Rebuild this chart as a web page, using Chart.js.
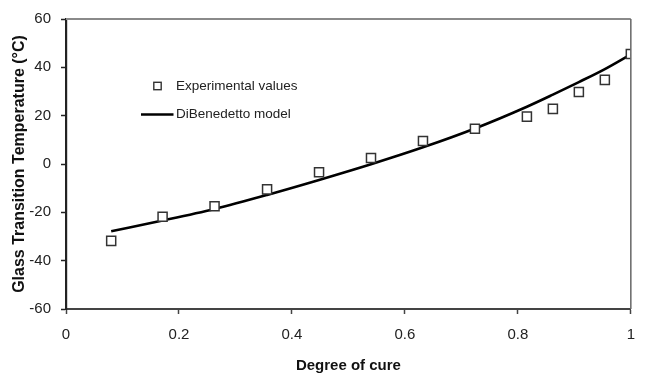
<!DOCTYPE html>
<html>
<head>
<meta charset="utf-8">
<title>Glass transition temperature vs degree of cure</title>
<script src="https://cdn.jsdelivr.net/npm/chart.js@4.4.1/dist/chart.umd.min.js"></script>
<style>
  html, body { margin: 0; padding: 0; background: #fff; }
  #wrap { width: 647px; height: 375px; }
</style>
</head>
<body>
<div id="wrap"><canvas id="tgChart" width="647" height="375"></canvas></div>
<script>
// degree of cure (x) and measured Tg in degC
var cureExp = [0.08, 0.171, 0.263, 0.356, 0.448, 0.54, 0.632, 0.724, 0.816, 0.862, 0.908, 0.954, 1.0];
var tgExp = [-31.8, -21.8, -17.5, -10.5, -3.4, 2.5, 9.5, 14.6, 19.6, 22.8, 29.8, 34.8, 45.5];

// DiBenedetto fit
var cureModel = [0.08, 0.171, 0.263, 0.356, 0.448, 0.54, 0.632, 0.724, 0.816, 0.862, 0.908, 0.954, 1.0];
var tgModel = [-27.8, -23.4, -18.6, -12.8, -6.6, -0.1, 6.9, 14.7, 23.7, 28.7, 33.9, 39.3, 45.4];

var xTicks = ["0", "0.2", "0.4", "0.6", "0.8", "1"];
var yTicks = ["-60", "-40", "-20", "0", "20", "40", "60"];

var seriesNames = ["Experimental values", "DiBenedetto model"];

function toPoints(xs, ys) {
  return xs.map(function (x, i) { return { x: x, y: ys[i] }; });
}

Chart.defaults.font.family = "'Liberation Sans', Arial, sans-serif";
Chart.defaults.color = "#222";

// frame on top and right of the plot
var frameLines = {
  id: 'frameLines',
  afterDraw: function (chart) {
    var a = chart.chartArea, ctx = chart.ctx;
    ctx.save();
    ctx.strokeStyle = '#8a8a8a';
    ctx.lineWidth = 2;
    ctx.beginPath();
    ctx.moveTo(a.left, a.top);
    ctx.lineTo(a.right, a.top);
    ctx.stroke();
    ctx.strokeStyle = '#666';
    ctx.lineWidth = 1.5;
    ctx.beginPath();
    ctx.moveTo(a.right, a.top);
    ctx.lineTo(a.right, a.bottom);
    ctx.stroke();
    ctx.restore();
  }
};

// small legend inside the plot, upper left
var innerLegend = {
  id: 'innerLegend',
  afterDraw: function (chart) {
    var a = chart.chartArea, ctx = chart.ctx;
    var ds = chart.data.datasets;
    var textX = a.left + 110;
    ctx.save();
    ctx.font = "13.5px 'Liberation Sans', Arial, sans-serif";
    ctx.textBaseline = 'middle';

    // marker row
    var y1 = a.top + 67;
    var mx = a.left + 91.5, s = 3.7;
    ctx.fillStyle = '#fff';
    ctx.strokeStyle = ds[0].borderColor;
    ctx.lineWidth = 1.4;
    ctx.fillRect(mx - s, y1 - s, 2 * s, 2 * s);
    ctx.strokeRect(mx - s, y1 - s, 2 * s, 2 * s);
    ctx.fillStyle = '#222';
    ctx.fillText(ds[0].label, textX, y1);

    // line row
    var y2 = a.top + 95.5;
    ctx.strokeStyle = ds[1].borderColor;
    ctx.lineWidth = 2.5;
    ctx.beginPath();
    ctx.moveTo(a.left + 75, y2);
    ctx.lineTo(a.left + 107.5, y2);
    ctx.stroke();
    ctx.fillText(ds[1].label, textX, y2);
    ctx.restore();
  }
};

var chartEl = document.getElementById("tgChart");
var tgChart = new Chart(chartEl, {
  type: 'scatter',
  data: {
    datasets: [
      {
        label: seriesNames[0],
        data: toPoints(cureExp, tgExp),
        showLine: false,
        pointStyle: 'rect',
        pointRadius: 6.4,
        pointBackgroundColor: '#fff',
        borderColor: '#333',
        pointBorderWidth: 1.5,
        order: 0
      },
      {
        label: seriesNames[1],
        data: toPoints(cureModel, tgModel),
        showLine: true,
        cubicInterpolationMode: 'monotone',
        borderColor: '#000',
        borderWidth: 2.6,
        pointRadius: 0,
        order: 1
      }
    ]
  },
  options: {
    responsive: false,
    animation: false,
    layout: { padding: { top: 19, right: 5.5, left: 0, bottom: 0 } },
    plugins: {
      legend: { display: false },
      tooltip: { enabled: false }
    },
    scales: {
      x: {
        type: 'linear',
        min: 0,
        max: 1,
        afterFit: function (scale) { scale.height = 66; },
        afterBuildTicks: function (scale) {
          scale.ticks = xTicks.map(function (t) { return { value: parseFloat(t) }; });
        },
        ticks: {
          padding: 12,
          color: '#222',
          font: { size: 15 },
          callback: function (v, i) { return xTicks[i]; }
        },
        grid: { drawOnChartArea: false, drawTicks: true, tickLength: 5, tickColor: '#444', tickWidth: 1.5 },
        border: { display: true, color: '#444', width: 2 },
        title: {
          display: true,
          text: 'Degree of cure',
          color: '#111',
          font: { size: 15, weight: 'bold' },
          padding: { top: 0, bottom: 0.5 }
        }
      },
      y: {
        type: 'linear',
        min: -60,
        max: 60,
        afterFit: function (scale) { scale.width = 66; },
        afterBuildTicks: function (scale) {
          scale.ticks = yTicks.map(function (t) { return { value: parseFloat(t) }; });
        },
        ticks: {
          padding: 10,
          color: '#222',
          font: { size: 15 },
          callback: function (v, i) { return yTicks[i]; }
        },
        grid: { drawOnChartArea: false, drawTicks: true, tickLength: 5, tickColor: '#222', tickWidth: 1.5 },
        border: { display: true, color: '#222', width: 2.2 },
        title: {
          display: true,
          text: 'Glass Transition Temperature (\u00B0C)',
          color: '#111',
          font: { size: 16, weight: 'bold' },
          padding: { top: 10, bottom: 0 }
        }
      }
    }
  },
  plugins: [frameLines, innerLegend]
});
</script>
</body>
</html>
